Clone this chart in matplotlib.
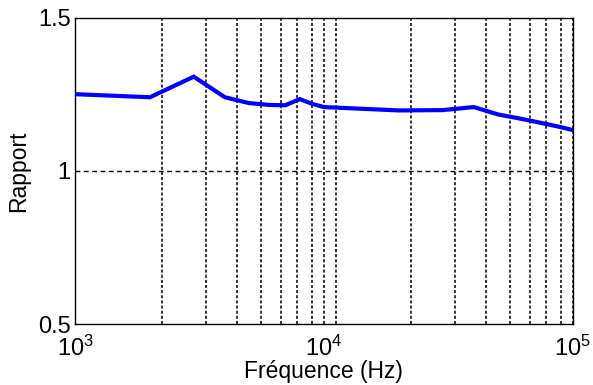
import matplotlib
matplotlib.use("Agg")
import matplotlib.pyplot as plt
import numpy as np

plt.rcParams['font.family'] = ['Liberation Sans', 'DejaVu Sans']
plt.rcParams['mathtext.fontset'] = 'custom'
plt.rcParams['mathtext.rm'] = 'Liberation Sans'
plt.rcParams['mathtext.it'] = 'Liberation Sans'
plt.rcParams['lines.scale_dashes'] = False

freq = [1000, 2000, 3000, 4000, 5000, 6000, 7000, 8000, 9000, 10000,
        20000, 30000, 40000, 50000, 60000, 70000, 80000, 90000, 100000]
ratio = [1.250, 1.240, 1.307, 1.240, 1.221, 1.215, 1.214, 1.234, 1.218, 1.208,
         1.197, 1.198, 1.208, 1.184, 1.172, 1.161, 1.151, 1.142, 1.133]

yticks = [0.5, 1, 1.5]
ytick_labels = ['0.5', '1', '1.5']
xticks = [1e3, 1e4, 1e5]

# vertical grid in the source is drawn slightly off the log ticks
grid_shift = 10 ** 0.048
grid_x = [m * d for d in (1e3, 1e4) for m in range(2, 11)][:-1]

fig = plt.figure(figsize=(5.93, 3.85), dpi=100)
ax = fig.add_axes([0.1265, 0.158, 0.8395, 0.7965])

for gx in grid_x:
    ax.axvline(gx * grid_shift, color='black', lw=1.1, dashes=(2.2, 1.5), zorder=1)
ax.axhline(1, color='black', lw=1.0, dashes=(3.5, 2.5), zorder=1)

ax.plot(freq, ratio, color='#0000ff', lw=3, solid_joinstyle='miter', zorder=3)

ax.set_xscale('log')
ax.set_xlim(1e3, 1e5)
ax.set_ylim(0.5, 1.5)
ax.set_xticks(xticks)
ax.set_xticklabels([r'$10^{3}$', r'$10^{4}$', r'$10^{5}$'])
ax.xaxis.set_minor_locator(matplotlib.ticker.NullLocator())
ax.set_yticks(yticks)
ax.set_yticklabels(ytick_labels)
ax.tick_params(axis='both', length=0, labelsize=17, pad=3)
ax.tick_params(axis='x', pad=8)

for s in ax.spines.values():
    s.set_linewidth(1.0)

ax.set_xlabel('Fréquence (Hz)', fontsize=16.5, labelpad=0)
ax.set_ylabel('Rapport', fontsize=16.5, labelpad=6)

fig.savefig('out.png', dpi=100)
